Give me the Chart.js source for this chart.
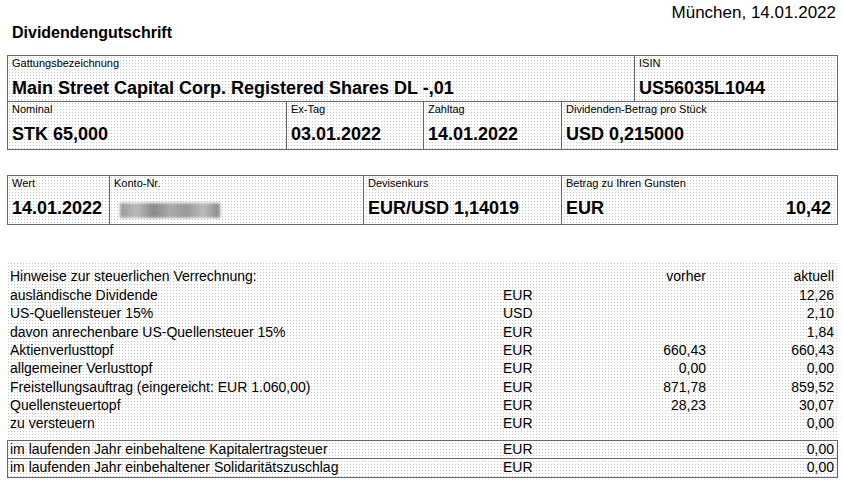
<!DOCTYPE html>
<html><head><meta charset="utf-8">
<script src="https://cdn.jsdelivr.net/npm/chart.js@4"></script>
<style>
body{margin:0;width:843px;height:485px;background:#fff;font-family:"Liberation Sans",Arial,sans-serif;color:#000;position:relative;overflow:hidden}
.a{position:absolute}
.dot{background-image:radial-gradient(#c8c8c8 0.6px,transparent 0.9px);background-size:3px 3px}
.box{position:absolute;border:1px solid #666;box-sizing:border-box}
.cell{position:absolute;top:0;bottom:0;border-left:1px solid #666;box-sizing:border-box}
.lb{position:absolute;left:4px;top:1px;font-size:11px}
.vl{position:absolute;left:4px;top:22px;font-size:18px;font-weight:bold}
.row{position:absolute;left:10px;width:824px;height:18px;font-size:14px}
.row span{position:absolute;top:0}
#c{position:absolute;left:0;top:0;width:1px;height:1px}
</style></head><body>
<div class="a" style="right:7px;top:3px;font-size:17px">München, 14.01.2022</div>
<div class="a" style="left:12px;top:24px;font-size:16px;font-weight:bold">Dividendengutschrift</div>
<div id="doc"></div>
<canvas id="c"></canvas>
<script>
const box1 = [["Gattungsbezeichnung","Main Street Capital Corp. Registered Shares DL -,01",0],["ISIN","US56035L1044",626]];
const box2 = [["Nominal","STK 65,000",0],["Ex-Tag","03.01.2022",278],["Zahltag","14.01.2022",415],["Dividenden-Betrag pro Stück","USD 0,215000",553]];
const box3 = [["Wert","14.01.2022",0],["Konto-Nr.","",101],["Devisenkurs","EUR/USD 1,14019",355],["Betrag zu Ihren Gunsten","EUR",553]];
const rowLabels = ["ausländische Dividende","US-Quellensteuer 15%","davon anrechenbare US-Quellensteuer 15%","Aktienverlusttopf","allgemeiner Verlusttopf","Freistellungsauftrag (eingereicht: EUR 1.060,00)","Quellensteuertopf","zu versteuern","im laufenden Jahr einbehaltene Kapitalertragsteuer","im laufenden Jahr einbehaltener Solidaritätszuschlag"];
const rowCurrency = ["EUR","USD","EUR","EUR","EUR","EUR","EUR","EUR","EUR","EUR"];
const rowBefore = ["","","","660,43","0,00","871,78","28,23","","",""];
const rowAfter = ["12,26","2,10","1,84","660,43","0,00","859,52","30,07","0,00","0,00","0,00"];

const doc=document.getElementById('doc');
function mkBox(cells,top,h){
  const b=document.createElement('div');b.className='box dot';
  b.style.cssText=`left:7px;top:${top}px;width:831px;height:${h}px`;
  cells.forEach((c,i)=>{
    const d=document.createElement('div');d.className='cell';
    d.style.left=c[2]+'px';d.style.right=(i<cells.length-1?(831-cells[i+1][2])+'px':'0');
    if(i===0)d.style.borderLeft='none';
    d.innerHTML=`<div class="lb">${c[0]}</div><div class="vl">${c[1]}</div>`;
    b.appendChild(d);
  });
  doc.appendChild(b);return b;
}
mkBox(box1,55,47);
mkBox(box2,101,49);
const b3=mkBox(box3,175,50);
b3.children[3].insertAdjacentHTML('beforeend','<div class="vl" style="left:auto;right:6px">10,42</div>');
b3.children[1].insertAdjacentHTML('beforeend','<div style="position:absolute;left:10px;top:27px;width:100px;height:15px;background:linear-gradient(90deg,#999,#bbb,#888,#aaa,#999,#bbb,#888);filter:blur(1.5px)"></div>');

const tbl=document.createElement('div');tbl.className='a dot';
tbl.style.cssText='left:7px;top:262px;width:831px;height:216px';doc.appendChild(tbl);
function row(top,l,c,v,a){
  doc.insertAdjacentHTML('beforeend',`<div class="row" style="top:${top}px"><span style="left:0">${l}</span><span style="left:493px">${c}</span><span style="right:128px">${v}</span><span style="right:0">${a}</span></div>`);
}
row(268,"Hinweise zur steuerlichen Verrechnung:","","vorher","aktuell");
rowLabels.forEach((l,i)=>row(i>=8?441+(i-8)*18:287+i*18.3,l,rowCurrency[i],rowBefore[i],rowAfter[i]));
doc.insertAdjacentHTML('beforeend','<div class="box" style="left:7px;top:440px;width:831px;height:38px"></div><div class="a" style="left:7px;top:458px;width:831px;border-top:1px solid #666"></div>');
new Chart(document.getElementById('c'),{type:'bar',data:{labels:[],datasets:[]},options:{responsive:false,animation:false,plugins:{legend:{display:false}},scales:{x:{display:false},y:{display:false}}}});
</script>
</body></html>
